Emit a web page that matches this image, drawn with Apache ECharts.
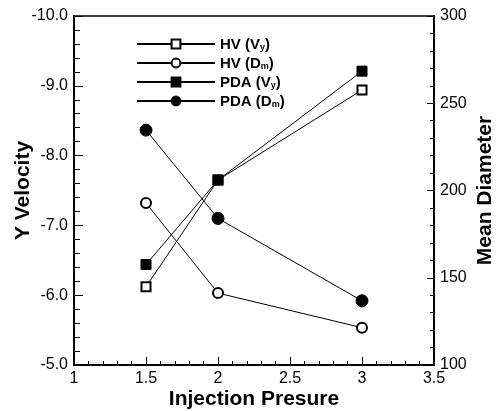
<!DOCTYPE html>
<html>
<head>
<meta charset="utf-8">
<script src="https://cdn.jsdelivr.net/npm/echarts@6/dist/echarts.min.js"></script>
<style>html,body{margin:0;padding:0;background:#fff;}#c{width:502px;height:411px;}</style>
</head>
<body>
<div id="c"></div>
<script>
var pressures = [1.5, 2, 3];
var hvVy = [-6.12, -7.65, -8.94];
var hvDm = [192.8, 141.2, 121.4];
var pdaVy = [-6.44, -7.65, -9.21];
var pdaDm = [234.6, 184.0, 136.8];
var seriesNames = ['HV (V_y)', 'HV (D_m)', 'PDA (V_y)', 'PDA (D_m)'];

function pairs(ys) { return pressures.map(function (x, i) { return [x, ys[i]]; }); }

var FONT = 'Liberation Sans, Arial, sans-serif';
var chart = echarts.init(document.getElementById('c'), null, {renderer: 'canvas'});

function lineSeries(name, data, yIdx, symbol, size) {
  return {
    name: name, type: 'line', data: pairs(data), yAxisIndex: yIdx,
    symbol: symbol, symbolSize: size,
    lineStyle: {color: '#000', width: 1},
    itemStyle: {color: '#000', borderColor: '#000', borderWidth: 1},
    emphasis: {disabled: true},
    animation: false
  };
}

chart.setOption({
  animation: false,
  backgroundColor: '#fff',
  grid: {left: 74, right: 68, top: 16, bottom: 46, containLabel: false, outerBoundsMode: 'none',
         show: true, borderColor: '#000', borderWidth: 1.5, backgroundColor: 'transparent'},
  legend: {
    orient: 'vertical', left: 131, top: 29,
    itemWidth: 78, itemHeight: 11, itemGap: 1,
    data: seriesNames,
    formatter: function (n) {
      var m = n.match(/^(.*\()(\w)_(\w)\)$/);
      return '{a|' + m[1] + m[2] + '}{s|' + m[3] + '}{a|)}';
    },
    textStyle: {
      fontFamily: FONT, fontWeight: 'bold', fontSize: 15, color: '#000',
      rich: {
        a: {fontFamily: FONT, fontWeight: 'bold', fontSize: 15, color: '#000', lineHeight: 16, verticalAlign: 'bottom'},
        s: {fontFamily: FONT, fontWeight: 'bold', fontSize: 9, color: '#000', lineHeight: 16, verticalAlign: 'bottom', padding: [9, 0, 0, 0]}
      }
    }
  },
  xAxis: {
    type: 'value', min: 1, max: 3.5, interval: 0.5,
    name: 'Injection Presure', nameLocation: 'middle', nameGap: 24, nameMoveOverlap: false,
    nameTextStyle: {fontFamily: FONT, fontWeight: 'bold', fontSize: 21, color: '#000'},
    axisLine: {show: true, lineStyle: {color: '#000', width: 2}},
    axisTick: {show: true, inside: true, length: 8, lineStyle: {color: '#000', width: 1}},
    minorTick: {show: true, splitNumber: 5, length: 4, lineStyle: {color: '#000', width: 1}},
    splitLine: {show: false},
    axisLabel: {fontFamily: FONT, fontSize: 16, color: '#000', margin: 6}
  },
  yAxis: [{
    type: 'value', min: -10, max: -5, interval: 1, inverse: true, position: 'left',
    name: 'Y Velocity', nameLocation: 'middle', nameGap: 40, nameRotate: 90, nameMoveOverlap: false,
    nameTextStyle: {fontFamily: FONT, fontWeight: 'bold', fontSize: 21, color: '#000'},
    axisLine: {show: true, lineStyle: {color: '#000', width: 2}},
    axisTick: {show: true, inside: true, length: 9, lineStyle: {color: '#000', width: 1}},
    minorTick: {show: true, splitNumber: 5, length: 6, lineStyle: {color: '#000', width: 1}},
    splitLine: {show: false},
    axisLabel: {fontFamily: FONT, fontSize: 16, color: '#000', margin: 6, formatter: function (v) { return v.toFixed(1); }}
  }, {
    type: 'value', min: 100, max: 300, interval: 50, position: 'right',
    name: 'Mean Diameter', nameLocation: 'middle', nameGap: 41, nameRotate: 90, nameMoveOverlap: false,
    nameTextStyle: {fontFamily: FONT, fontWeight: 'bold', fontSize: 21, color: '#000'},
    axisLine: {show: true, lineStyle: {color: '#000', width: 2}},
    axisTick: {show: true, inside: true, length: 7, lineStyle: {color: '#000', width: 1}},
    minorTick: {show: true, splitNumber: 5, length: 4, lineStyle: {color: '#000', width: 1}},
    splitLine: {show: false},
    axisLabel: {fontFamily: FONT, fontSize: 16, color: '#000', margin: 6}
  }],
  series: [
    lineSeries(seriesNames[0], hvVy, 0, 'emptyRect', 9),
    lineSeries(seriesNames[1], hvDm, 1, 'emptyCircle', 10),
    lineSeries(seriesNames[2], pdaVy, 0, 'rect', 10),
    lineSeries(seriesNames[3], pdaDm, 1, 'circle', 12)
  ]
});
</script>
</body>
</html>
